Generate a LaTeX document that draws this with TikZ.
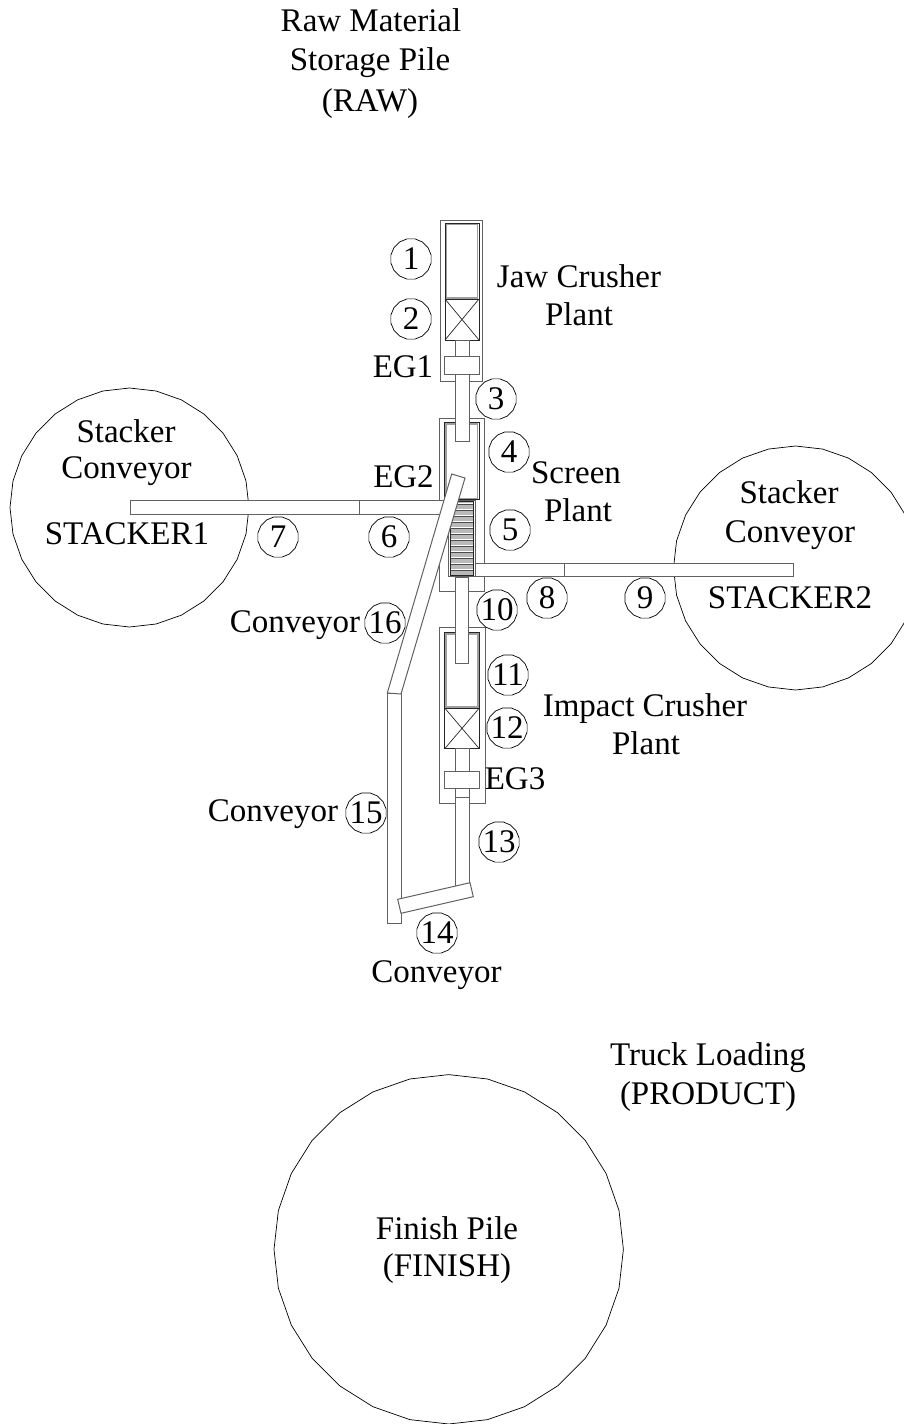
\documentclass[tikz,border=0pt]{standalone}
\usepackage{fontspec}
\setmainfont{Liberation Serif}
\usetikzlibrary{shapes.geometric}
\definecolor{edge}{gray}{0.38}
\tikzset{
  lbl/.style={anchor=base,inner sep=0pt,font=\fontsize{33}{37}\selectfont,text=black,yshift=-1.5pt},
  num/.style={shape=regular polygon,regular polygon sides=16,draw=black,line width=0.7pt,inner sep=-8pt,minimum size=41pt,font=\fontsize{33}{37}\selectfont,text=black},
  pile/.style={shape=regular polygon,regular polygon sides=28,shape border rotate=6.4286,draw=black,line width=0.7pt,inner sep=0pt},
  part/.style={draw=edge,line width=1pt,fill=white},
  skid/.style={draw=edge,line width=1pt},
  liner/.style={draw=gray!75,line width=1.6pt},
  rim/.style={draw=black!85,line width=0.7pt}
}
\begin{document}
\begin{tikzpicture}[x=1pt,y=-1pt]
\useasboundingbox (0,0) rectangle (904,1424);
\clip (0,0) rectangle (904,1424);
% piles
\node[pile,minimum size=239pt] (stackerA) at (129.5,507.5) {};
\node[pile,minimum size=244pt] (stackerB) at (795.5,568) {};
\node[pile,minimum size=349.4pt] (finish) at (448.7,1249.3) {};
% plant frames
\draw[skid] (440.7,220.7) rectangle (482.7,381.7);
\draw[skid] (439.3,418) rectangle (484.7,591);
\draw[skid] (439,627.3) rectangle (485,803.7);
% jaw crusher hopper and crusher
\draw[liner] (446.5,224.5) rectangle (477.5,298);
\draw[rim] (445,223) rectangle (479,299);
\draw[rim] (445,299) rectangle (479,340);
\draw[rim] (445,299) -- (479,340) (479,299) -- (445,340);
% screen hopper
\draw[liner] (446.2,424.2) rectangle (477.5,499);
\draw[rim] (444.7,422.7) rectangle (479,499.5);
% impact crusher hopper and crusher
\draw[liner] (446.2,634.2) rectangle (477.8,707);
\draw[rim] (444.7,632.7) rectangle (479.3,708);
\draw[rim] (444.7,708) rectangle (479.3,748.7);
\draw[rim] (444.7,708) -- (479.3,748.7) (479.3,708) -- (444.7,748.7);
% conveyors 6 and 7
\draw[part] (130,500.7) rectangle (359,514.7);
\draw[part] (359,500.7) rectangle (450,514.7);
% screen deck
\draw[draw=edge,line width=1pt,fill=white] (448,500) rectangle (475,576.7);
\fill[gray!55] (450.5,501) rectangle (473.5,575.5);
\foreach \yy in {503.5,509.5,...,575}{
  \draw[white,line width=1.1pt] (450.5,\yy) -- (473.5,\yy);
  \draw[black!70,line width=0.5pt] (450.5,\yy+1.1) -- (473.5,\yy+1.1);
}
\draw[rim,line width=1pt] (450.5,501) rectangle (473.5,575.5);
% conveyors 8 and 9
\draw[part] (475,563.7) rectangle (564,576);
\draw[part] (564,563.7) rectangle (793,576);
% conveyors 3 and 10
\draw[part] (455,340) rectangle (469,441);
\draw[part] (455,577) rectangle (468.7,663);
% EG1
\draw[part] (444,356.7) rectangle (479,374);
% impact crusher discharge and conveyor 13
\draw[part] (455,748.7) rectangle (469,771);
\draw[part] (444.3,771) rectangle (479.7,788);
\draw[part] (455,788) rectangle (469,797);
\draw[part] (455,797) rectangle (469,886.7);
% conveyors 15, 16, 14
\draw[part] (387.3,693) rectangle (401,923);
\draw[part] (451.7,474) -- (465,478) -- (401,694) -- (387.3,693) -- cycle;
\draw[part] (397.7,899.3) -- (470,882.7) -- (473.3,896.7) -- (401,913.3) -- cycle;
% numbered markers
\node[num] (n1) at (411,259) {1};
\node[num] (n2) at (411,319) {2};
\node[num] (n3) at (496,399) {3};
\node[num] (n4) at (509,452) {4};
\node[num] (n5) at (510,530) {5};
\node[num] (n6) at (389,537) {6};
\node[num] (n7) at (278,537) {7};
\node[num] (n8) at (547,598) {8};
\node[num] (n9) at (645,598) {9};
\node[num] (n10) at (497,610) {10};
\node[num] (n11) at (508,675) {11};
\node[num] (n12) at (507,728) {12};
\node[num] (n13) at (499,842) {13};
\node[num] (n14) at (437,933) {14};
\node[num] (n15) at (366,813) {15};
\node[num] (n16) at (385,623) {16};
% labels
\node[lbl] (t1) at (371,30) {Raw Material};
\node[lbl] (t2) at (370,69) {Storage Pile};
\node[lbl] (t3) at (370,110) {(RAW)};
\node[lbl] (t4) at (579,286) {Jaw Crusher};
\node[lbl] (t5) at (579,324) {Plant};
\node[lbl] (t6) at (403,376) {EG1};
\node[lbl] (t7) at (403.5,486) {EG2};
\node[lbl] (t8) at (515,788) {EG3};
\node[lbl] (t9) at (576,482) {Screen};
\node[lbl] (t10) at (578,520) {Plant};
\node[lbl] (t11) at (126,440.7) {Stacker};
\node[lbl] (t12) at (126.5,477) {Conveyor};
\node[lbl] (t13) at (127,543) {STACKER1};
\node[lbl] (t14) at (789,502) {Stacker};
\node[lbl] (t15) at (790,541) {Conveyor};
\node[lbl] (t16) at (790,607) {STACKER2};
\node[lbl] (t17) at (295,631) {Conveyor};
\node[lbl] (t18) at (273,820) {Conveyor};
\node[lbl] (t19) at (436.5,981) {Conveyor};
\node[lbl] (t20) at (645,715) {Impact Crusher};
\node[lbl] (t21) at (646,753) {Plant};
\node[lbl] (t22) at (708,1064) {Truck Loading};
\node[lbl] (t23) at (708,1103) {(PRODUCT)};
\node[lbl] (t24) at (447,1237.7) {Finish Pile};
\node[lbl] (t25) at (447,1275) {(FINISH)};
\end{tikzpicture}
\end{document}
